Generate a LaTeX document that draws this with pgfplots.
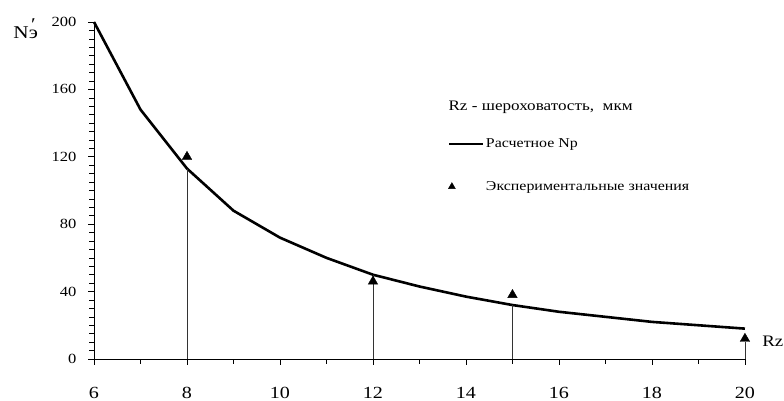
\documentclass[border=0pt]{standalone}
\usepackage{pgfplots}
\pgfplotsset{compat=1.18}
\usepackage{fontspec}
\setmainfont[FakeStretch=1.18]{Liberation Serif}

\begin{document}
\begin{tikzpicture}
\begin{axis}[
  scale only axis,
  width=651pt, height=337pt,
  xmin=6, xmax=20, ymin=0, ymax=200,
  axis lines*=left,
  axis line style={black, line width=0.8pt},
  clip=false,
  xtick={6,8,...,20},
  minor xtick={7,9,...,19},
  ytick={0,40,...,200},
  minor ytick={5,10,...,195},
  tick align=outside,
  major tick length=6pt,
  minor tick length=5pt,
  every tick/.style={black, line width=0.6pt},
  /pgf/number format/assume math mode=true,
  xticklabel style={yshift=-19pt, font=\fontsize{17}{19}\selectfont},
  yticklabel style={xshift=-8pt, font=\fontsize{14}{16}\selectfont},
  legend style={draw=none, fill=none, at={(axis cs:13.55,133)}, anchor=north west,
    font=\fontsize{13.5}{15}\selectfont, row sep=28pt, cells={anchor=west}},
  legend cell align=left,
]
% computed values
\addplot[black, line width=2.6pt,
  legend image code/.code={\draw[black, line width=1.6pt] (0cm,0cm) -- (1.2cm,0cm);}]
  coordinates {
  (6,200) (7,148) (8,113) (9,88) (10,72) (11,60) (12,50) (13,43)
  (14,37) (15,32) (16,28) (17,25) (18,22) (19,20) (20,18)
};
\addlegendentry{Расчетное Np}
% measured values
\addplot[only marks, mark=triangle*, mark size=5.5pt, black,
  legend image code/.code={\draw[black, fill=black] plot[mark=triangle*, mark size=4pt] coordinates {(0.1cm,0cm)};}]
  coordinates {(8,120) (12,46) (15,38) (20,12)};
\addlegendentry{Экспериментальные значения}
% drop lines down to the axis
\addplot[ycomb, black!80, line width=0.6pt, forget plot]
  coordinates {(8,113) (12,50) (15,32) (20,10)};

\node[anchor=west, font=\fontsize{14.5}{16}\selectfont] at (axis cs:13.55,149.5) {Rz - шероховатость,\ \ мкм};
% y-axis name: N with a primed э
\node[font=\fontsize{18}{20}\selectfont] at (axis cs:4.53,196)
  {Nэ\makebox[0pt][r]{\raisebox{0.95ex}{′}\hspace{0.12em}}};
\node[font=\fontsize{16}{18}\selectfont] at (axis cs:20.6,10.5) {Rz};

\coordinate (bbSW) at (axis cs:3.978,-24.9);
\coordinate (bbNE) at (axis cs:20.84,213.05);
\end{axis}
\pgfresetboundingbox
\path[use as bounding box] (bbSW) rectangle (bbNE);
\end{tikzpicture}
\end{document}
